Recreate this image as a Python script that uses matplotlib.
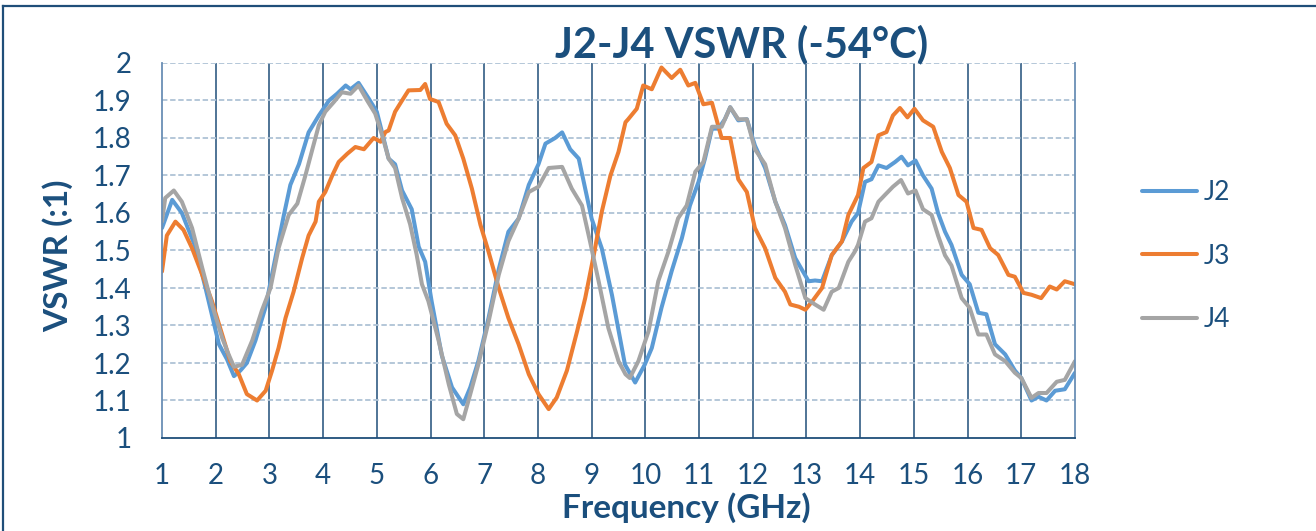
import matplotlib.pyplot as plt
from matplotlib.lines import Line2D

# values (frequency in GHz, VSWR)
j2_freq = [1.0, 1.19, 1.37, 1.62, 1.81, 2.06, 2.21, 2.34, 2.46, 2.58, 2.74, 2.93, 3.11, 3.27, 3.39,
           3.55, 3.73, 3.92, 4.11, 4.26, 4.42, 4.51, 4.66, 4.85, 5.0, 5.22, 5.34, 5.47, 5.65, 5.78,
           5.9, 6.02, 6.21, 6.4, 6.61, 6.74, 6.89, 7.08, 7.27, 7.45, 7.64, 7.83, 8.01, 8.14, 8.32,
           8.45, 8.6, 8.76, 8.88, 9.0, 9.19, 9.38, 9.62, 9.81, 9.99, 10.12, 10.3, 10.49, 10.68,
           10.83, 10.99, 11.11, 11.24, 11.36, 11.48, 11.58, 11.73, 11.89, 12.04, 12.23, 12.42,
           12.6, 12.79, 12.91, 13.04, 13.16, 13.29, 13.47, 13.66, 13.84, 13.96, 14.09, 14.21,
           14.34, 14.49, 14.65, 14.77, 14.89, 15.03, 15.17, 15.33, 15.45, 15.58, 15.7, 15.89,
           16.04, 16.2, 16.35, 16.51, 16.7, 16.88, 17.0, 17.19, 17.32, 17.47, 17.63, 17.81, 18.0]
j2_vswr = [1.56, 1.635, 1.60, 1.51, 1.40, 1.25, 1.21, 1.165, 1.18, 1.20, 1.26, 1.35, 1.48, 1.595, 1.675,
           1.73, 1.815, 1.86, 1.90, 1.918, 1.94, 1.93, 1.947, 1.905, 1.87, 1.745, 1.73, 1.66, 1.61, 1.51,
           1.47, 1.365, 1.22, 1.135, 1.09, 1.135, 1.205, 1.32, 1.45, 1.55, 1.585, 1.675, 1.73, 1.785, 1.80,
           1.815, 1.77, 1.745, 1.665, 1.585, 1.505, 1.38, 1.196, 1.148, 1.196, 1.24, 1.347, 1.445, 1.533,
           1.62, 1.683, 1.745, 1.825, 1.825, 1.85, 1.882, 1.847, 1.85, 1.78, 1.72, 1.63,
           1.568, 1.48, 1.45, 1.418, 1.42, 1.418, 1.487, 1.524, 1.577, 1.60, 1.683, 1.69,
           1.727, 1.72, 1.736, 1.75, 1.727, 1.74, 1.70, 1.665, 1.60, 1.55, 1.515, 1.435,
           1.41, 1.334, 1.33, 1.25, 1.223, 1.18, 1.16, 1.10, 1.11, 1.10, 1.126, 1.13, 1.174]

j3_freq = [1.0, 1.09, 1.25, 1.40, 1.56, 1.75, 1.93, 2.12, 2.27, 2.43, 2.58, 2.77, 2.93, 3.05, 3.17,
           3.30, 3.45, 3.61, 3.73, 3.86, 3.92, 4.04, 4.17, 4.29, 4.45, 4.60, 4.76, 4.94, 5.07, 5.16,
           5.22, 5.34, 5.47, 5.59, 5.81, 5.90, 5.99, 6.15, 6.30, 6.46, 6.61, 6.77, 6.93, 7.08, 7.27,
           7.45, 7.64, 7.83, 8.01, 8.20, 8.35, 8.54, 8.73, 8.88, 9.04, 9.19, 9.35, 9.50, 9.63, 9.68,
           9.84, 9.96, 10.12, 10.30, 10.49, 10.65, 10.80, 10.93, 11.08, 11.24, 11.42, 11.58, 11.73,
           11.89, 12.04, 12.23, 12.42, 12.60, 12.70, 12.86, 12.98, 13.11, 13.29, 13.47, 13.66, 13.78,
           13.90, 13.96, 14.06, 14.21, 14.34, 14.49, 14.61, 14.74, 14.88, 15.01, 15.17, 15.36, 15.52,
           15.67, 15.83, 15.98, 16.11, 16.26, 16.42, 16.57, 16.76, 16.88, 17.04, 17.19, 17.37, 17.53,
           17.66, 17.81, 18.0]
j3_vswr = [1.444, 1.54, 1.577, 1.555, 1.506, 1.435, 1.365, 1.276, 1.205, 1.17, 1.117, 1.10, 1.126, 1.18, 1.24,
           1.32, 1.39, 1.48, 1.54, 1.577, 1.63, 1.656, 1.70, 1.736, 1.758, 1.776, 1.77, 1.80, 1.79, 1.816,
           1.82, 1.87, 1.90, 1.927, 1.928, 1.944, 1.904, 1.896, 1.838, 1.807, 1.745, 1.665, 1.568, 1.497, 1.40,
           1.32, 1.25, 1.17, 1.117, 1.077, 1.108, 1.18, 1.285, 1.373, 1.488, 1.604, 1.70, 1.763, 1.842, 1.85,
           1.878, 1.94, 1.93, 1.988, 1.96, 1.982, 1.94, 1.947, 1.89, 1.894, 1.80, 1.80, 1.69,
           1.656, 1.56, 1.506, 1.427, 1.39, 1.356, 1.35, 1.342, 1.365, 1.40, 1.488, 1.524, 1.595,
           1.63, 1.648, 1.72, 1.736, 1.807, 1.816, 1.86, 1.88, 1.855, 1.878, 1.847, 1.83, 1.763,
           1.72, 1.648, 1.63, 1.56, 1.555, 1.506, 1.488, 1.435, 1.43, 1.387, 1.382, 1.373, 1.404,
           1.396, 1.418, 1.41]

j4_freq = [1.0, 1.06, 1.22, 1.37, 1.56, 1.75, 1.93, 2.12, 2.24, 2.34, 2.49, 2.68, 2.86, 3.02, 3.17,
           3.36, 3.52, 3.67, 3.80, 3.92, 4.04, 4.20, 4.35, 4.51, 4.66, 4.82, 4.97, 5.10, 5.22, 5.34,
           5.47, 5.62, 5.74, 5.84, 5.96, 6.15, 6.34, 6.49, 6.61, 6.74, 6.89, 7.08, 7.27, 7.45, 7.64,
           7.83, 8.01, 8.20, 8.45, 8.63, 8.82, 8.97, 9.13, 9.31, 9.50, 9.63, 9.71, 9.87, 10.06, 10.24,
           10.43, 10.61, 10.77, 10.93, 11.08, 11.24, 11.42, 11.58, 11.73, 11.89, 12.04, 12.23, 12.42,
           12.60, 12.79, 12.98, 13.16, 13.32, 13.47, 13.60, 13.78, 13.90, 13.96, 14.09, 14.21, 14.34,
           14.46, 14.61, 14.76, 14.89, 15.03, 15.17, 15.33, 15.45, 15.58, 15.70, 15.89, 16.04, 16.20,
           16.35, 16.51, 16.70, 16.88, 17.0, 17.19, 17.32, 17.47, 17.66, 17.81, 18.0]
j4_vswr = [1.577, 1.64, 1.66, 1.63, 1.56, 1.453, 1.356, 1.267, 1.223, 1.19, 1.195, 1.26, 1.34, 1.40, 1.506,
           1.595, 1.625, 1.70, 1.77, 1.834, 1.87, 1.896, 1.922, 1.918, 1.94, 1.90, 1.865, 1.807, 1.745, 1.72,
           1.64, 1.57, 1.49, 1.41, 1.365, 1.26, 1.143, 1.064, 1.05, 1.117, 1.196, 1.31, 1.435, 1.525, 1.585,
           1.656, 1.67, 1.72, 1.723, 1.665, 1.62, 1.524, 1.418, 1.294, 1.205, 1.17, 1.16, 1.205, 1.285, 1.418,
           1.497, 1.586, 1.62, 1.71, 1.736, 1.83, 1.83, 1.882, 1.85, 1.85, 1.77, 1.73, 1.63,
           1.56, 1.462, 1.373, 1.356, 1.342, 1.39, 1.40, 1.47, 1.497, 1.515, 1.577, 1.586, 1.63,
           1.648, 1.67, 1.688, 1.652, 1.66, 1.61, 1.595, 1.54, 1.487, 1.46, 1.373, 1.347, 1.276,
           1.276, 1.223, 1.205, 1.174, 1.16, 1.107, 1.12, 1.12, 1.15, 1.155, 1.205]

x_ticks = list(range(1, 19))
y_ticks = [1, 1.1, 1.2, 1.3, 1.4, 1.5, 1.6, 1.7, 1.8, 1.9, 2]
y_tick_labels = ["1", "1.1", "1.2", "1.3", "1.4", "1.5", "1.6", "1.7", "1.8", "1.9", "2"]

text_color = "#1B4F7D"
plt.rcParams["font.family"] = ["Lato", "DejaVu Sans"]

fig = plt.figure(figsize=(13.16, 5.31), dpi=100)
ax = fig.add_axes([162 / 1316, 93 / 531, 913 / 1316, 375 / 531])

line_kw = dict(lw=2.9, solid_capstyle="round", solid_joinstyle="round")
ax.plot(j2_freq, j2_vswr, color="#5B9BD5", label="J2", **line_kw)
ax.plot(j3_freq, j3_vswr, color="#ED7D31", label="J3", **line_kw)
ax.plot(j4_freq, j4_vswr, color="#A5A5A5", label="J4", **line_kw)

ax.set_xlim(1, 18)
ax.set_ylim(1, 2)
ax.set_xticks(x_ticks)
ax.set_yticks(y_ticks)
ax.set_yticklabels(y_tick_labels)
ax.tick_params(length=0, labelsize=20, colors=text_color)
ax.tick_params(axis="x", pad=18)
ax.tick_params(axis="y", pad=22)

# gridlines: solid dark verticals, dashed light horizontals
for f in x_ticks[1:-1]:
    ax.axvline(f, color="#1F4E79", lw=1.1, zorder=0.5)
for v in y_ticks[1:]:
    ax.axhline(v, color="#AFC3D6", lw=1.3, ls=(0, (3, 1.5)), zorder=0.5)

ax.spines["top"].set_visible(False)
ax.spines["left"].set_color("#6A8FB5")
ax.spines["right"].set_color("#6A8FB5")
ax.spines["bottom"].set_color("#1F4E79")
for side in ["left", "right", "bottom"]:
    ax.spines[side].set_linewidth(1.3)

fig.text(686 / 1316, 1 - 508 / 531, "Frequency (GHz)", fontsize=24, fontweight="bold",
         color=text_color, ha="center", va="center")
fig.text(58 / 1316, 1 - 256 / 531, "VSWR (:1)", rotation=90, fontsize=24, fontweight="bold",
         color=text_color, ha="center", va="center")
fig.text(742 / 1316, 1 - 44 / 531, "J2-J4 VSWR (-54°C)", fontsize=30, fontweight="bold",
         color=text_color, ha="center", va="center")

leg = ax.legend(loc="center left", bbox_to_anchor=(1118 / 1316, 1 - 256 / 531),
                bbox_transform=fig.transFigure, frameon=False, fontsize=19,
                handlelength=2.1, labelspacing=1.45, handletextpad=0.25)
for t in leg.get_texts():
    t.set_color(text_color)

# outer frame (top and left edges)
fig.add_artist(Line2D([3 / 1316, 3 / 1316], [0, 1 - 6 / 531], color="#1F4E79", lw=1.6,
                      transform=fig.transFigure))
fig.add_artist(Line2D([3 / 1316, 1], [1 - 6 / 531, 1 - 6 / 531], color="#1F4E79", lw=1.6,
                      transform=fig.transFigure))

fig.savefig("out.png", dpi=100)
